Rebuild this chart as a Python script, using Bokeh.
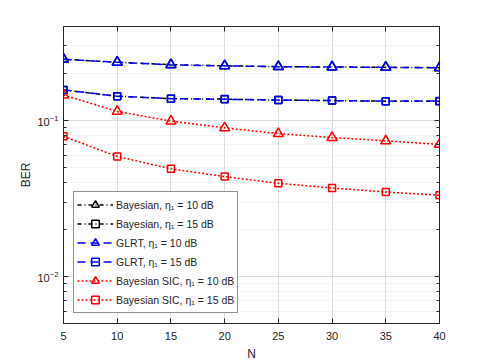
from bokeh.plotting import figure
from bokeh.models import FixedTicker, LogAxis, LinearAxis, Legend, LogTickFormatter, CustomJSTickFormatter
from bokeh.embed import file_html
from bokeh.resources import INLINE

N = [5, 10, 15, 20, 25, 30, 35, 40]
bayes_10 = [0.247, 0.236, 0.228, 0.224, 0.221, 0.220, 0.219, 0.218]
bayes_15 = [0.157, 0.143, 0.138, 0.137, 0.135, 0.134, 0.133, 0.133]
glrt_10 = [0.247, 0.236, 0.227, 0.224, 0.221, 0.220, 0.219, 0.2175]
glrt_15 = [0.157, 0.143, 0.138, 0.1366, 0.1352, 0.134, 0.133, 0.1332]
sic_10 = [0.1456, 0.1143, 0.099, 0.0897, 0.0824, 0.0777, 0.074, 0.0703]
sic_15 = [0.0792, 0.0588, 0.049, 0.0437, 0.0396, 0.0369, 0.0348, 0.0332]

labels = ["Bayesian, η₁ = 10 dB", "Bayesian, η₁ = 15 dB",
          "GLRT, η₁ = 10 dB", "GLRT, η₁ = 15 dB",
          "Bayesian SIC, η₁ = 10 dB", "Bayesian SIC, η₁ = 15 dB"]

x_ticks = [5, 10, 15, 20, 25, 30, 35, 40]
y_major = [0.01, 0.1]
y_minor = [0.005, 0.006, 0.007, 0.008, 0.009,
           0.02, 0.03, 0.04, 0.05, 0.06, 0.07, 0.08, 0.09,
           0.2, 0.3, 0.4]

AX = "#262626"
FONT = "Liberation Sans"

p = figure(output_backend="svg", toolbar_location=None,
           frame_width=376, frame_height=297,
           min_border_left=63, min_border_top=26, min_border_right=8, min_border_bottom=36,
           x_range=(5, 40), y_range=(0.005, 0.4), y_axis_type="log",
           background_fill_color="white", border_fill_color="white")
p.outline_line_color = AX
p.outline_line_width = 1

yt = FixedTicker(ticks=y_major, minor_ticks=y_minor)
xt = FixedTicker(ticks=x_ticks, minor_ticks=[])
p.xaxis.ticker = xt
p.yaxis.ticker = yt
p.yaxis.formatter = LogTickFormatter()

for ax in [p.xaxis[0], p.yaxis[0]]:
    ax.major_tick_in = 5
    ax.major_tick_out = 0
    ax.minor_tick_in = 3
    ax.minor_tick_out = 0
    ax.axis_line_color = None
    ax.major_tick_line_color = AX
    ax.minor_tick_line_color = AX
    ax.major_label_text_color = AX
    ax.major_label_text_font = FONT
    ax.major_label_text_font_size = "11px"
    ax.axis_label_text_font = FONT
    ax.axis_label_text_font_style = "normal"
    ax.axis_label_text_font_size = "12px"
    ax.axis_label_text_color = AX
p.xaxis.axis_label = "N"
p.yaxis.axis_label = "BER"
p.xaxis.major_label_standoff = 8
p.yaxis.major_label_standoff = 5
p.xaxis.axis_label_standoff = 4
p.yaxis.axis_label_standoff = 1

# box ticks on top and right
blank = CustomJSTickFormatter(code="return ''")
ra = LogAxis(ticker=yt, formatter=blank, major_tick_in=5, major_tick_out=0, minor_tick_in=3, minor_tick_out=0,
             axis_line_color=None, major_tick_line_color=AX, minor_tick_line_color=AX,
             major_label_standoff=0)
ta = LinearAxis(ticker=xt, formatter=blank, major_tick_in=5, major_tick_out=0, minor_tick_in=0, minor_tick_out=0,
                axis_line_color=None, major_tick_line_color=AX, major_label_standoff=0)
p.add_layout(ra, "right")
p.add_layout(ta, "above")

p.xgrid.grid_line_color = "#dcdcdc"
p.ygrid.grid_line_color = "#dcdcdc"
p.ygrid.minor_grid_line_color = "#d8d8d8"
p.ygrid.minor_grid_line_dash = "1 3"
p.ygrid.minor_grid_line_width = 1

items = []
series = [
    (bayes_10, "black", "4 3 1 3", "triangle", 10, labels[0]),
    (bayes_15, "black", "4 3 1 3", "square", 7, labels[1]),
    (glrt_10, "#0000ff", "8 5", "triangle", 10, labels[2]),
    (glrt_15, "#0000ff", "8 5", "square", 7, labels[3]),
    (sic_10, "#ff0000", "2 2", "triangle", 10, labels[4]),
    (sic_15, "#ff0000", "2 2", "square", 7, labels[5]),
]
for ys, col, dash, mk, sz, lab in series:
    r1 = p.line(N, ys, line_color=col, line_width=1.5, line_dash=dash)
    r2 = p.scatter(N, ys, marker=mk, size=sz, line_color=col, line_width=1.5,
                   fill_color=None)
    items.append((lab, [r1, r2]))

leg = Legend(items=items, location=(10, 10))
leg.label_text_font = FONT
leg.label_text_font_size = "10.5px"
leg.label_text_color = AX
leg.glyph_width = 36
leg.glyph_height = 19
leg.label_height = 19
leg.spacing = 0
leg.padding = 3
leg.margin = 0
leg.label_standoff = 3
leg.border_line_color = AX
leg.border_line_width = 1
leg.background_fill_color = "white"
leg.background_fill_alpha = 1
p.add_layout(leg, "center")

open("out.html", "w").write(file_html(p, INLINE))
